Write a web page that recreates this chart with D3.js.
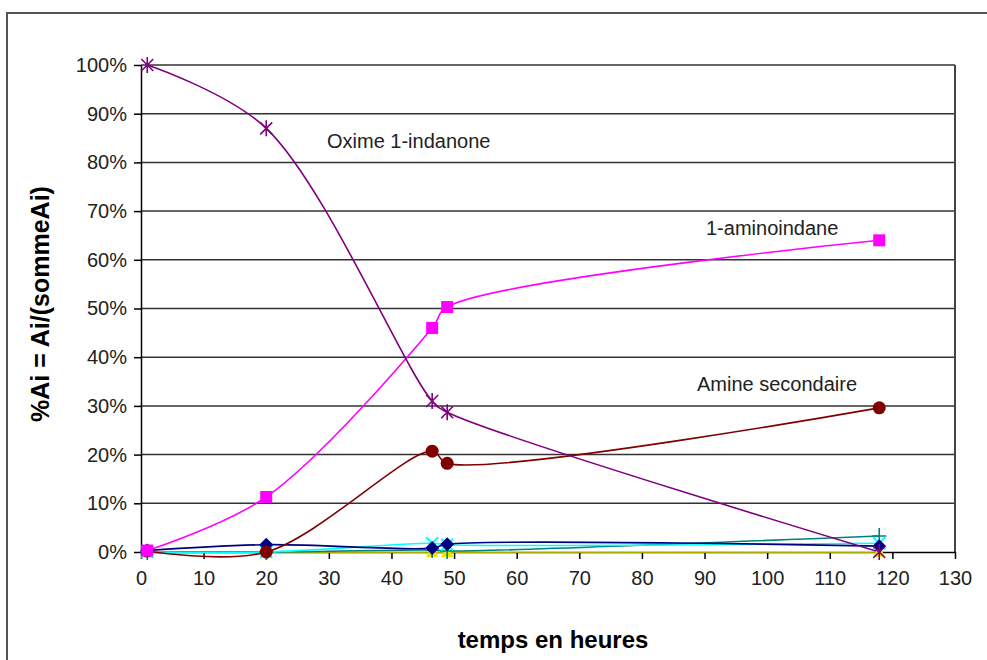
<!DOCTYPE html>
<html>
<head>
<meta charset="utf-8">
<script src="https://cdn.jsdelivr.net/npm/d3@7"></script>
<style>
  body { margin: 0; background: #fff; }
  text { font-family: "Liberation Sans", Arial, sans-serif; }
</style>
</head>
<body>
<div id="chart"></div>
<script>
// sampling times (hours)
let hours = [1, 20, 46.5, 48.9, 117.9]

// % of total area for each species
let oxime      = [100, 87, 31, 28.7, 0]
let aminoindan = [0.3, 11.3, 46, 50.3, 64]
let amineSec   = [0.2, 0, 20.7, 18.2, 29.6]
let navySeries = [0.3, 1.5, 0.8, 1.6, 1.2]
let cyanSeries = [0, 0, 1.8, 1.5, 1.8]
let tealSeries = [0, 0, 0.4, 0.2, 3.3]
let yellowSer  = [0, 0, 0, 0, 0]

let xTicks = d3.range(0, 131, 10)
let yTicks = d3.range(0, 101, 10)

let svg_width = 987
let svg_height = 660
let plotLeft = 141, plotRight = 955, plotTop = 65, plotBottom = 552

let svg = d3.select("#chart")
  .append("svg")
  .attr("width", svg_width)
  .attr("height", svg_height)

// outer frame (only top and left edges visible)
svg.append("path")
   .attr("d", "M7,660 V13 H987")
   .attr("fill", "none")
   .attr("stroke", "#555")
   .attr("stroke-width", 2)

let xScale = d3.scaleLinear().domain([0, 130]).range([plotLeft, plotRight])
let yScale = d3.scaleLinear().domain([0, 100]).range([plotBottom, plotTop])

// horizontal gridlines
svg.selectAll(".grid")
   .data(yTicks.filter(d => d > 0))
   .enter()
   .append("line")
   .attr("x1", plotLeft).attr("x2", plotRight)
   .attr("y1", d => yScale(d)).attr("y2", d => yScale(d))
   .attr("stroke", "#333")
   .attr("stroke-width", 1.5)

// right border of plot area
svg.append("line")
   .attr("x1", plotRight).attr("x2", plotRight)
   .attr("y1", plotTop).attr("y2", plotBottom)
   .attr("stroke", "#444").attr("stroke-width", 2)

// axes
let xAxis = d3.axisBottom(xScale).tickValues(xTicks).tickSize(7).tickPadding(12)
let yAxis = d3.axisLeft(yScale).tickValues(yTicks).tickSize(7).tickPadding(7)
  .tickFormat(d => d + "%")

function styleAxis(g) {
  g.select(".domain").attr("stroke", "#000").attr("stroke-width", 1.5)
  g.selectAll(".tick line").attr("stroke", "#000").attr("stroke-width", 1.5)
  g.selectAll("text").attr("font-size", 20).attr("fill", "#222")
    .style("font-family", "'Liberation Sans', Arial, sans-serif")
}

svg.append("g")
   .attr("transform", `translate(0,${plotBottom})`)
   .call(xAxis.tickSizeOuter(0))
   .call(styleAxis)

svg.append("g")
   .attr("transform", `translate(${plotLeft},0)`)
   .call(yAxis.tickSizeOuter(0))
   .call(styleAxis)

// series lines (smoothed like the spreadsheet, without loops)
let line = d3.line()
  .x((d, i) => xScale(hours[i]))
  .y(d => yScale(d))
  .curve(d3.curveCatmullRom.alpha(0.5))

let series = [
  {vals: yellowSer,  color: "#e6e600", marker: "triangle"},
  {vals: tealSeries, color: "#008080", marker: "plus"},
  {vals: cyanSeries, color: "#00ffff", marker: "x"},
  {vals: navySeries, color: "#000080", marker: "diamond"},
  {vals: amineSec,   color: "#800000", marker: "circle"},
  {vals: aminoindan, color: "#ff00ff", marker: "square"},
  {vals: oxime,      color: "#800080", marker: "star"}
]

series.forEach(s => {
  svg.append("path")
     .attr("d", line(s.vals))
     .attr("fill", "none")
     .attr("stroke", s.color)
     .attr("stroke-width", 1.6)
})

function drawMarker(g, type, color) {
  if (type == "square") {
    g.append("rect").attr("x", -6).attr("y", -6).attr("width", 12).attr("height", 12)
     .attr("fill", color)
  } else if (type == "circle") {
    g.append("circle").attr("r", 6.5).attr("fill", color)
  } else if (type == "diamond") {
    g.append("path").attr("d", "M0,-7L7,0L0,7L-7,0Z").attr("fill", color)
  } else if (type == "triangle") {
    g.append("path").attr("d", "M0,-7L6,5H-6Z").attr("fill", color)
  } else if (type == "plus") {
    g.append("path").attr("d", "M0,-8V8M-7,0H7")
     .attr("stroke", color).attr("stroke-width", 1.6)
  } else if (type == "x") {
    g.append("path").attr("d", "M-6,-6L6,6M6,-6L-6,6")
     .attr("stroke", color).attr("stroke-width", 2)
  } else if (type == "star") {
    g.append("path").attr("d", "M-6,-6L6,6M6,-6L-6,6M0,-8V8")
     .attr("stroke", color).attr("stroke-width", 1.6)
  }
}

series.forEach(s => {
  svg.selectAll(null)
     .data(s.vals)
     .enter()
     .append("g")
     .attr("transform", (d, i) => `translate(${xScale(hours[i])},${yScale(d)})`)
     .each(function() { drawMarker(d3.select(this), s.marker, s.color) })
})

// in-plot series labels
let labels = [
  {text: "Oxime 1-indanone", x: 327, y: 148},
  {text: "1-aminoindane", x: 706, y: 235},
  {text: "Amine secondaire", x: 697, y: 391}
]
svg.selectAll(".lab")
   .data(labels)
   .enter()
   .append("text")
   .attr("x", d => d.x).attr("y", d => d.y)
   .attr("font-size", 20).attr("fill", "#222")
   .text(d => d.text)

// axis titles
svg.append("text")
   .attr("x", 553).attr("y", 648)
   .attr("text-anchor", "middle")
   .attr("font-size", 24).attr("font-weight", "bold")
   .text("temps en heures")

// y title is cut off at its top end in the original
svg.append("clipPath").attr("id", "ytitle-clip")
   .append("rect").attr("x", 0).attr("y", 183).attr("width", 80).attr("height", 300)

svg.append("g")
   .attr("clip-path", "url(#ytitle-clip)")
   .append("text")
   .attr("transform", "translate(49,422) rotate(-90)")
   .attr("font-size", 25).attr("font-weight", "bold")
   .text("%Ai = Ai/(sommeAi)")
</script>
</body>
</html>
